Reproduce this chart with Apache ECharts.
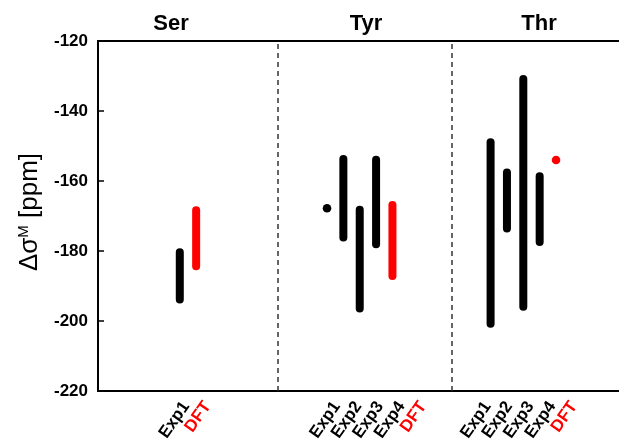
<!DOCTYPE html>
<html>
<head>
<meta charset="utf-8">
<script src="https://cdn.jsdelivr.net/npm/echarts@6/dist/echarts.min.js"></script>
<style>
html,body{margin:0;padding:0;background:#fff;}
#chart{width:619px;height:444px;}
</style>
</head>
<body>
<div id="chart"></div>
<script>
// ---- data ----
const groups = ['Ser', 'Tyr', 'Thr'];
const serLabels = ['Exp1', 'DFT'];
const tyrLabels = ['Exp1', 'Exp2', 'Exp3', 'Exp4', 'DFT'];
const thrLabels = ['Exp1', 'Exp2', 'Exp3', 'Exp4', 'DFT'];
const serLow  = [-195.0, -185.5];
const serHigh = [-179.2, -167.2];
const tyrLow  = [-167.8, -177.3, -197.6, -179.2, -188.3];
const tyrHigh = [-167.8, -152.6, -167.1, -152.8, -165.7];
const thrLow  = [-201.9, -174.7, -197.1, -178.6, -154.0];
const thrHigh = [-147.8, -156.4, -129.7, -157.5, -154.0];
const yTicks = [-220, -200, -180, -160, -140, -120];

// ---- layout (axis units) ----
const groupStart = [5, 14, 24];        // mark slots
const labelStart = [4, 11, 18];        // label slots (labels are spread wider than marks)
const separators = [11, 21.65];
const xMax = 31.85;
const labelMax = 24.1;

const labelSets = [serLabels, tyrLabels, thrLabels];
const lowSets = [serLow, tyrLow, thrLow];
const highSets = [serHigh, tyrHigh, thrHigh];

const expData = [], dftData = [], labelAt = {};
labelSets.forEach((labels, g) => {
  labels.forEach((lab, i) => {
    const x = groupStart[g] + i;
    labelAt[labelStart[g] + i] = lab;
    const item = [x, lowSets[g][i], highSets[g][i]];
    if (lab === 'DFT') dftData.push(item); else expData.push(item);
  });
});

function makeRender(color) {
  return function (params, api) {
    const x = api.value(0), lo = api.value(1), hi = api.value(2);
    const pTop = api.coord([x, hi]);
    const pBot = api.coord([x, lo]);
    if (lo === hi) {
      return { type: 'circle', shape: { cx: pTop[0], cy: pTop[1], r: 4.3 }, style: { fill: color } };
    }
    const w = 8;
    return {
      type: 'rect',
      shape: { x: pTop[0] - w / 2, y: pTop[1], width: w, height: pBot[1] - pTop[1], r: w / 2 },
      style: { fill: color }
    };
  };
}

const FONT = 'Liberation Sans';
const chart = echarts.init(document.getElementById('chart'), null, { renderer: 'canvas' });
const titleX = [166, 361, 534];
chart.setOption({
  animation: false,
  backgroundColor: '#fff',
  title: groups.map((g, i) => ({
    text: g,
    left: titleX[i],
    top: 8,
    textAlign: 'center',
    textStyle: { fontFamily: FONT, fontWeight: 'bold', fontSize: 22, color: '#000' }
  })),
  grid: [
    { left: 98, top: 41, bottom: 53, right: 0 },
    { left: 100, top: 41, bottom: 53, right: 0 }
  ],
  xAxis: [
    {
      type: 'value', gridIndex: 0, min: 0, max: xMax, position: 'bottom',
      splitLine: { show: false }, axisTick: { show: false }, axisLabel: { show: false },
      axisLine: { show: true, lineStyle: { color: '#000', width: 2 } }
    },
    {
      type: 'value', gridIndex: 0, min: 0, max: xMax, position: 'top',
      splitLine: { show: false }, axisTick: { show: false }, axisLabel: { show: false },
      axisLine: { show: true, lineStyle: { color: '#000', width: 2 } }
    },
    {
      type: 'value', gridIndex: 1, min: 0, max: labelMax, interval: 1, position: 'bottom',
      splitLine: { show: false }, axisTick: { show: false }, axisLine: { show: false },
      axisLabel: {
        interval: 0, rotate: 55, margin: 14, showMinLabel: true, showMaxLabel: false,
        formatter: v => {
          const lab = labelAt[v];
          if (!lab) return '';
          return lab === 'DFT' ? '{d|' + lab + '}' : '{e|' + lab + '}';
        },
        rich: {
          e: { fontFamily: FONT, fontWeight: 'bold', fontSize: 17, color: '#000' },
          d: { fontFamily: FONT, fontWeight: 'bold', fontSize: 17, color: '#ff0000' }
        }
      }
    }
  ],
  yAxis: [
    {
      type: 'value', gridIndex: 0, min: -220, max: -120, interval: 20,
      splitLine: { show: false },
      axisLine: { show: true, lineStyle: { color: '#000', width: 2 } },
      axisTick: { show: true, inside: true, length: 6, lineStyle: { color: '#000', width: 1.5 } },
      axisLabel: {
        margin: 10, color: '#000', fontFamily: FONT, fontWeight: 'bold', fontSize: 17,
        formatter: v => (yTicks.indexOf(v) >= 0 ? String(v) : '')
      },
      name: '{p|}{a|Δσ}{s|M}{a| [ppm]}',
      nameLocation: 'middle',
      nameRotate: 90,
      nameGap: 55,
      nameTextStyle: {
        rich: {
          p: { width: 8 },
          a: { fontFamily: FONT, fontSize: 26, color: '#000' },
          s: { fontFamily: FONT, fontSize: 15, color: '#000', verticalAlign: 'bottom', padding: [0, 0, 12, 0] }
        }
      }
    },
    {
      type: 'value', gridIndex: 1, min: -220, max: -120, show: false
    }
  ],
  series: [
    {
      name: 'Exp', type: 'custom', xAxisIndex: 0, yAxisIndex: 0, renderItem: makeRender('#000'),
      encode: { x: 0, y: [1, 2] }, data: expData,
      markLine: {
        silent: true, symbol: 'none', label: { show: false },
        lineStyle: { type: [5, 4], color: '#333', width: 1.5 },
        data: separators.map(s => ({ xAxis: s }))
      }
    },
    {
      name: 'DFT', type: 'custom', xAxisIndex: 0, yAxisIndex: 0, renderItem: makeRender('#ff0000'),
      encode: { x: 0, y: [1, 2] }, data: dftData
    }
  ]
});
</script>
</body>
</html>
